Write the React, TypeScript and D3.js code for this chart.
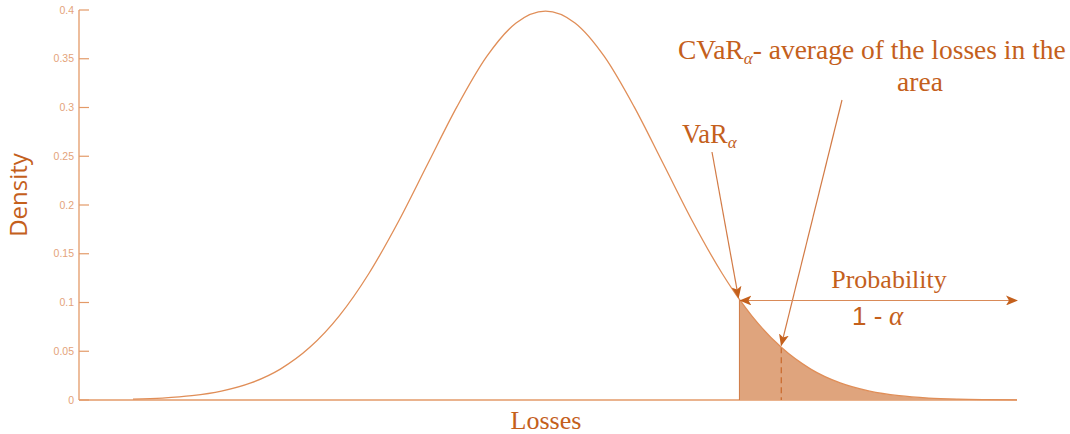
import { useEffect } from 'react';
import { scaleLinear, line, area, curveMonotoneX } from 'd3';

// standard loss distribution (z, density)
const zValues = [-3.5, -3.25, -3, -2.75, -2.5, -2.25, -2, -1.75, -1.5, -1.25, -1, -0.75, -0.5, -0.25, 0,
  0.25, 0.5, 0.75, 1, 1.25, 1.5, 1.645, 1.75, 2, 2.25, 2.5, 2.75, 3, 3.25, 3.5, 3.75, 4];
const densities = [0.0009, 0.002, 0.0044, 0.0091, 0.0175, 0.0317, 0.054, 0.0863, 0.1295, 0.1826, 0.242, 0.3011,
  0.3521, 0.3867, 0.3989, 0.3867, 0.3521, 0.3011, 0.242, 0.1826, 0.1295, 0.1031, 0.0863, 0.054, 0.0317, 0.0175,
  0.0091, 0.0044, 0.002, 0.0009, 0.0004, 0.0001];
const yTicks = [0, 0.05, 0.1, 0.15, 0.2, 0.25, 0.3, 0.35, 0.4];
const varZ = 1.645;
const cvarZ = 2.0;

const WIDTH = 1070;
const HEIGHT = 434;
const AXIS_LEFT = 79;
const PLOT_LEFT = 133;
const PLOT_RIGHT = 1017;
const TEXT = '#c4601c';
const LIGHT = '#e39a68';
const SERIF = '"Liberation Serif", "DejaVu Serif", serif';
const SANS = '"Liberation Sans", Arial, sans-serif';

export default function App() {
  useEffect(() => {
    document.body.style.margin = '0';
  }, []);

  const x = scaleLinear().domain([-3.5, 4]).range([PLOT_LEFT, PLOT_RIGHT]);
  const y = scaleLinear().domain([0, 0.4]).range([400, 10]);
  const pts: [number, number][] = zValues.map((z, i) => [z, densities[i]]);
  const tail = pts.filter(([z]) => z >= varZ);

  const curvePath = line<[number, number]>()
    .x(([z]) => x(z))
    .y(([, d]) => y(d))
    .curve(curveMonotoneX)(pts)!;
  const tailPath = area<[number, number]>()
    .x(([z]) => x(z))
    .y0(y(0))
    .y1(([, d]) => y(d))
    .curve(curveMonotoneX)(tail)!;

  const interp = (z: number) => {
    const i = zValues.findIndex((v) => v >= z);
    if (zValues[i] === z) return densities[i];
    const t = (z - zValues[i - 1]) / (zValues[i] - zValues[i - 1]);
    return densities[i - 1] + t * (densities[i] - densities[i - 1]);
  };
  const varX = x(varZ);
  const varY = y(interp(varZ));
  const cvarX = x(cvarZ);
  const cvarY = y(interp(cvarZ));

  return (
    <svg width={WIDTH} height={HEIGHT} style={{ display: 'block' }}>
      <defs>
        <marker id="head" viewBox="0 0 12 10" refX="11" refY="5" markerWidth="12" markerHeight="10"
          markerUnits="userSpaceOnUse" orient="auto-start-reverse">
          <path d="M0,0 L12,5 L0,10 L3,5 Z" fill={TEXT} />
        </marker>
      </defs>

      {/* y axis */}
      <line x1={AXIS_LEFT} x2={AXIS_LEFT} y1={y(0.4)} y2={y(0)} stroke={LIGHT} strokeWidth={1.3} />
      {yTicks.map((t) => (
        <g key={t}>
          <line x1={AXIS_LEFT} x2={AXIS_LEFT + 10} y1={y(t)} y2={y(t)} stroke={LIGHT} strokeWidth={1.2} />
          <text x={AXIS_LEFT - 5} y={y(t)} dy="0.35em" textAnchor="end" fontFamily={SANS} fontSize={10.5}
            fill="#e4a37a">
            {t}
          </text>
        </g>
      ))}
      {/* x axis */}
      <line x1={AXIS_LEFT} x2={PLOT_RIGHT} y1={y(0)} y2={y(0)} stroke={LIGHT} strokeWidth={1.6} />

      {/* tail area */}
      <path d={tailPath} fill="#dfa47d" />
      <line x1={varX} x2={varX} y1={varY} y2={y(0)} stroke="#cf7a45" strokeWidth={1} />
      <line x1={cvarX} x2={cvarX} y1={cvarY} y2={y(0)} stroke="#c8682a" strokeWidth={1.2}
        strokeDasharray="6,4" />

      {/* density curve */}
      <path d={curvePath} fill="none" stroke="#e08e58" strokeWidth={1.3} />

      {/* labels */}
      <text transform={`translate(27, 195) rotate(-90)`} textAnchor="middle" fontFamily='"Open Sans", sans-serif'
        fontSize={24} fill={TEXT}>
        Density
      </text>
      <text x={546} y={429} textAnchor="middle" fontFamily={SERIF} fontSize={26} fill={TEXT}>
        Losses
      </text>

      {/* annotations */}
      <text x={678} y={59} fontFamily={SERIF} fontSize={27.5} fill={TEXT}>
        CVaR
        <tspan fontStyle="italic" fontSize={17} dy={5}>α</tspan>
        <tspan dy={-5}>- average of the losses in the</tspan>
      </text>
      <text x={920} y={91} textAnchor="middle" fontFamily={SERIF} fontSize={27.5} fill={TEXT}>
        area
      </text>
      <text x={682} y={143} fontFamily={SERIF} fontSize={26.5} fill={TEXT}>
        VaR
        <tspan fontStyle="italic" fontSize={17} dy={5}>α</tspan>
      </text>
      <line x1={712} y1={152} x2={varX - 1} y2={varY - 2} stroke="#d27a45" strokeWidth={1.2} markerEnd="url(#head)" />
      <line x1={842} y1={100} x2={cvarX} y2={cvarY - 2} stroke="#d27a45" strokeWidth={1.2} markerEnd="url(#head)" />

      <line x1={varX + 1} x2={PLOT_RIGHT} y1={varY + 1} y2={varY + 1} stroke="#d98a58" strokeWidth={1.2}
        markerStart="url(#head)" markerEnd="url(#head)" />
      <text x={889} y={288} textAnchor="middle" fontFamily={SERIF} fontSize={26} fill={TEXT}>
        Probability
      </text>
      <text x={852} y={325} fontFamily={SANS} fontSize={26} fill={TEXT}>
        1 -
        <tspan fontFamily={SERIF} fontStyle="italic" fontSize={27}> α</tspan>
      </text>
    </svg>
  );
}
